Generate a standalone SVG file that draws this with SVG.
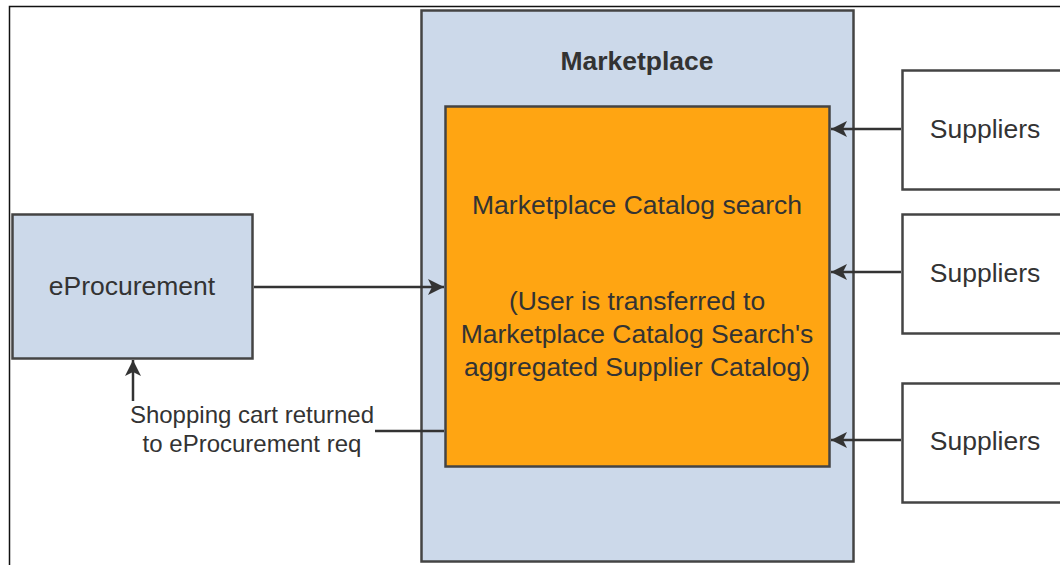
<svg xmlns="http://www.w3.org/2000/svg" width="1060" height="565" viewBox="0 0 1060 565">
  <defs>
    <marker id="arrowBig" markerWidth="16" markerHeight="16" refX="16" refY="8" orient="auto" markerUnits="userSpaceOnUse" viewBox="0 0 16 16">
      <path d="M0,0 L16,8 L0,16 L4,8 Z" fill="#333"/>
    </marker>
  </defs>
  <style>
    .box { stroke: #444; stroke-width: 2.5; }
    .blue { fill: #ccd9ea; }
    .orange { fill: #ffa512; }
    .white { fill: #ffffff; }
    .lbl { font-family: "Liberation Sans", Arial, sans-serif; font-size: 26.5px; fill: #333; text-anchor: middle; }
    .title { font-weight: bold; }
    .small { font-size: 24px; }
    .conn { stroke: #333; stroke-width: 2.5; fill: none; }
  </style>
  <rect width="1060" height="565" fill="#fff"/>
  <!-- outer frame -->
  <path d="M9.5,570 V6.5 H1070" fill="none" stroke="#111" stroke-width="1.5"/>

  <g id="marketplace">
    <rect class="box blue" x="421.5" y="10.5" width="432" height="551"/>
    <text class="lbl title" x="637" y="70">Marketplace</text>
  </g>

  <g id="catalog-search">
    <rect class="box orange" x="445.5" y="106.5" width="384" height="360"/>
    <text class="lbl" x="637" y="214">Marketplace Catalog search</text>
    <text class="lbl" x="637" y="310">(User is transferred to</text>
    <text class="lbl" x="637" y="343">Marketplace Catalog Search's</text>
    <text class="lbl" x="637" y="376">aggregated Supplier Catalog)</text>
  </g>

  <g id="eprocurement">
    <rect class="box blue" x="12.5" y="214.5" width="240" height="144"/>
    <text class="lbl" x="132" y="295">eProcurement</text>
  </g>

  <g id="suppliers-1">
    <rect class="box white" x="902.5" y="70.5" width="170" height="119"/>
    <text class="lbl" x="985" y="138">Suppliers</text>
  </g>
  <g id="suppliers-2">
    <rect class="box white" x="902.5" y="214.5" width="170" height="119"/>
    <text class="lbl" x="985" y="282">Suppliers</text>
  </g>
  <g id="suppliers-3">
    <rect class="box white" x="902.5" y="383.5" width="170" height="119"/>
    <text class="lbl" x="985" y="450">Suppliers</text>
  </g>

  <g id="connectors">
    <line class="conn" x1="254" y1="287" x2="444" y2="287" marker-end="url(#arrowBig)"/>
    <line class="conn" x1="901" y1="129" x2="831" y2="129" marker-end="url(#arrowBig)"/>
    <line class="conn" x1="901" y1="272" x2="831" y2="272" marker-end="url(#arrowBig)"/>
    <line class="conn" x1="901" y1="440" x2="831" y2="440" marker-end="url(#arrowBig)"/>
    <line class="conn" x1="444" y1="431" x2="375" y2="431"/>
    <line class="conn" x1="133" y1="401" x2="133" y2="360" marker-end="url(#arrowBig)"/>
    <text class="lbl small" x="252" y="423">Shopping cart returned</text>
    <text class="lbl small" x="252" y="452">to eProcurement req</text>
  </g>
</svg>
